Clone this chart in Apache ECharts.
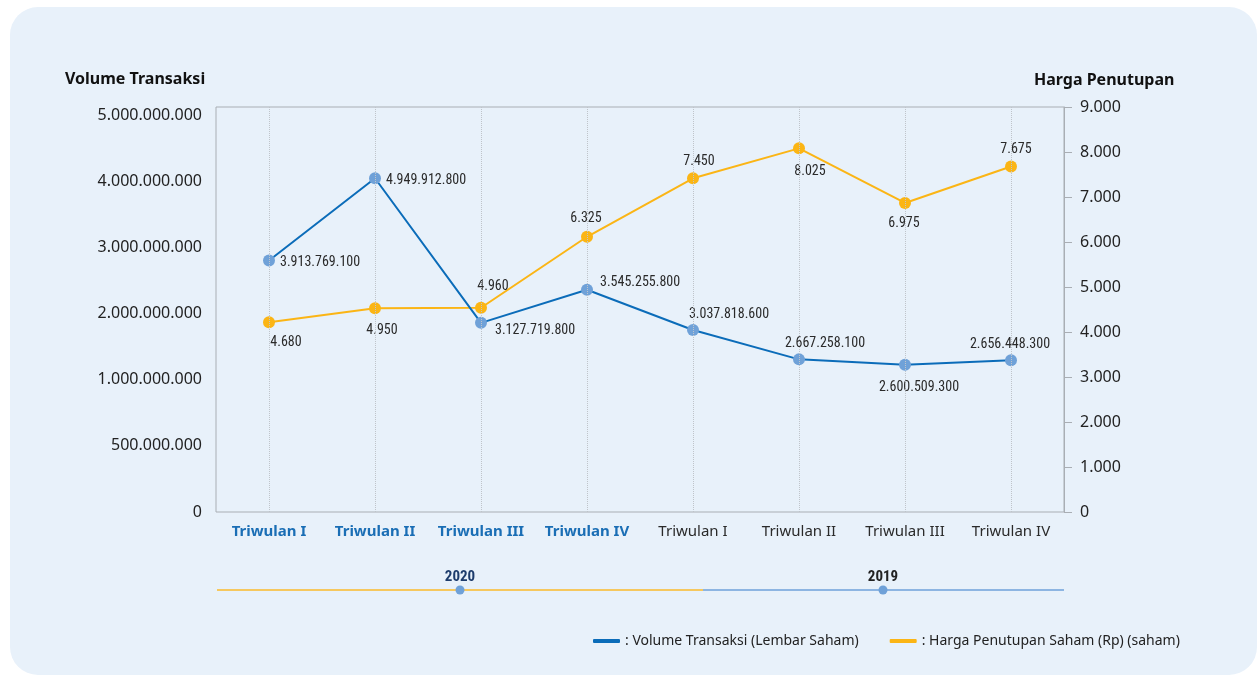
<!DOCTYPE html>
<html>
<head>
<meta charset="utf-8">
<script src="https://cdn.jsdelivr.net/npm/echarts@6/dist/echarts.min.js"></script>
<style>
  html, body { margin: 0; padding: 0; background: #ffffff; }
  #panel { position: absolute; left: 10px; top: 7px; width: 1247px; height: 668px;
           border-radius: 28px; background: #e8f1fa; }
  #chart { position: absolute; left: 0; top: 0; width: 1257px; height: 675px; }
</style>
</head>
<body>
<div id="panel"></div>
<div id="chart"></div>
<script>
// quarters on the x axis, first four are 2020, last four are 2019
const quarters = ['Triwulan I', 'Triwulan II', 'Triwulan III', 'Triwulan IV',
                  'Triwulan I', 'Triwulan II', 'Triwulan III', 'Triwulan IV'];
const quarterYear = ['2020', '2020', '2020', '2020', '2019', '2019', '2019', '2019'];
const years = ['2020', '2019'];

// Volume Transaksi (lembar saham)
const volume = [3913769100, 4949912800, 3127719800, 3545255800,
                3037818600, 2667258100, 2600509300, 2656448300];
// Harga Penutupan (Rp)
const closingPrice = [4680, 4950, 4960, 6325, 7450, 8025, 6975, 7675];

// left axis tick labels as printed (not to scale)
const leftTickLabels = ['0', '500.000.000', '1.000.000.000', '2.000.000.000',
                        '3.000.000.000', '4.000.000.000', '5.000.000.000'];

const seriesNames = ['Volume Transaksi (Lembar Saham)', 'Harga Penutupan Saham (Rp) (saham)'];

// label placement per point
const volLabelPos = [['right', [0, 2]], ['right', [0, 2]], ['right', [3, 8]], ['right', [2, -7]],
                     ['top', [36, 3]], ['top', [26, 2]], ['bottom', [14, 5]], ['top', [-1, 2]]];
const priceLabelPos = [['bottom', [17, 2]], ['bottom', [7, 4]], ['top', [12, -3]], ['top', [-1, 0]],
                       ['top', [6, 1]], ['bottom', [11, 5]], ['bottom', [-1, 3]], ['top', [5, 1]]];

const BLUE = '#0b6cb9';
const BLUE_DOT = '#6fa1d8';
const YELLOW = '#fbb515';
const AXIS = '#a9aeb4';
const NARROW = "'Liberation Sans Narrow', 'Roboto Condensed', Roboto, sans-serif";

function fmt(v) {
  return String(v).replace(/\B(?=(\d{3})+(?!\d))/g, '.');
}

const catKeys = quarters.map((q, i) => quarterYear[i] + ' ' + q);

const chart = echarts.init(document.getElementById('chart'));

const labelBase = { show: true, fontFamily: NARROW, fontSize: 14, color: '#2a2a2a' };

const option = {
  animation: false,
  textStyle: { fontFamily: 'Noto Sans' },
  grid: [
    { left: 216, right: 193, top: 107, height: 405, show: true, borderColor: AXIS, borderWidth: 1 },
    { left: 216, right: 193, top: 115, height: 397, show: false }
  ],
  xAxis: [
    {
      gridIndex: 0, type: 'category', data: catKeys, boundaryGap: true,
      axisLine: { show: false }, axisTick: { show: false },
      axisLabel: {
        interval: 0, margin: 12,
        formatter: (v, i) => (i < 4 ? '{b|' : '{n|') + quarters[i] + '}',
        rich: {
          b: { fontFamily: 'Noto Sans', fontWeight: 'bold', fontSize: 15, color: '#1a6eb5' },
          n: { fontFamily: 'Noto Sans', fontSize: 15, color: '#2a2a2a' }
        }
      }
    },
    { gridIndex: 1, type: 'category', data: [''], show: false }
  ],
  yAxis: [
    {
      gridIndex: 1, type: 'category', data: leftTickLabels, boundaryGap: false,
      axisLine: { show: false }, axisTick: { show: false }, splitLine: { show: false },
      axisLabel: { margin: 14, fontSize: 16, color: '#222', fontFamily: 'Noto Sans' }
    },
    {
      gridIndex: 0, type: 'value', position: 'right', min: 0, max: 9000, interval: 1000,
      axisLine: { show: true, lineStyle: { color: AXIS } },
      axisTick: { show: true, length: 8, lineStyle: { color: AXIS } },
      splitLine: { show: false },
      axisLabel: { formatter: fmt, margin: 16, fontSize: 16, color: '#222', fontFamily: 'Noto Sans' }
    },
    // hidden scales the two lines are actually drawn on
    { gridIndex: 0, type: 'value', show: false, min: 743600000, max: 5848000000 },
    { gridIndex: 0, type: 'value', show: false, min: 1034, max: 8820 }
  ],
  legend: {
    left: 588, top: 629, itemWidth: 27, itemHeight: 4, itemGap: 31, icon: 'roundRect',
    data: [
      { name: seriesNames[0], itemStyle: { color: BLUE } },
      { name: seriesNames[1], itemStyle: { color: YELLOW } }
    ],
    formatter: n => ': ' + n,
    textStyle: { fontSize: 14, color: '#222', fontFamily: 'Noto Sans' }
  },
  graphic: [
    { type: 'text', left: 65, top: 71, style: { text: 'Volume Transaksi', font: 'bold 16px "Noto Sans"', fill: '#111' } },
    { type: 'text', left: 1034, top: 72, style: { text: 'Harga Penutupan', font: 'bold 16px "Noto Sans"', fill: '#111' } },
    { type: 'line', shape: { x1: 217, y1: 590, x2: 703, y2: 590 }, style: { stroke: '#f6c85e', lineWidth: 2 } },
    { type: 'line', shape: { x1: 703, y1: 590, x2: 1064, y2: 590 }, style: { stroke: '#8db5e2', lineWidth: 2 } },
    { type: 'circle', shape: { cx: 460, cy: 590, r: 4.5 }, style: { fill: BLUE_DOT } },
    { type: 'circle', shape: { cx: 883, cy: 590, r: 4.5 }, style: { fill: BLUE_DOT } },
    { type: 'text', x: 460, y: 577, style: { text: years[0], font: 'bold 15px ' + NARROW, fill: '#1d3c6c', align: 'center', verticalAlign: 'middle' } },
    { type: 'text', x: 883, y: 577, style: { text: years[1], font: 'bold 15px ' + NARROW, fill: '#222', align: 'center', verticalAlign: 'middle' } }
  ],
  series: [
    {
      name: seriesNames[1], type: 'line', xAxisIndex: 0, yAxisIndex: 3,
      symbol: 'circle', symbolSize: 12,
      lineStyle: { color: YELLOW, width: 2 }, itemStyle: { color: YELLOW },
      data: closingPrice.map((v, i) => ({
        value: v,
        label: Object.assign({}, labelBase, { position: priceLabelPos[i][0], offset: priceLabelPos[i][1], formatter: fmt(v) })
      })),
      z: 3
    },
    {
      name: seriesNames[0], type: 'line', xAxisIndex: 0, yAxisIndex: 2,
      symbol: 'circle', symbolSize: 12,
      lineStyle: { color: BLUE, width: 2 }, itemStyle: { color: BLUE_DOT },
      data: volume.map((v, i) => ({
        value: v,
        label: Object.assign({}, labelBase, { position: volLabelPos[i][0], offset: volLabelPos[i][1], formatter: fmt(v) })
      })),
      markLine: {
        silent: true, symbol: 'none', label: { show: false },
        lineStyle: { type: 'dotted', color: '#bfc4ca', width: 1 },
        data: catKeys.map((k, i) => ({ xAxis: i }))
      },
      z: 4
    }
  ]
};

chart.setOption(option);
</script>
</body>
</html>
